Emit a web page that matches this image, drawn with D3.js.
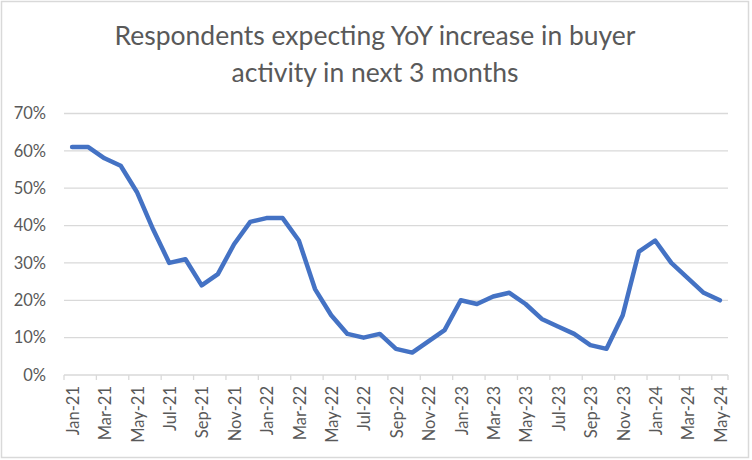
<!DOCTYPE html>
<html>
<head>
<meta charset="utf-8">
<script src="https://cdn.jsdelivr.net/npm/d3@7"></script>
<style>
  body { margin: 0; background: #fff; }
  svg { display: block; }
</style>
</head>
<body>
<div id="vis"></div>
<script>
const months = [
  'Jan-21', 'Feb-21', 'Mar-21', 'Apr-21', 'May-21', 'Jun-21', 'Jul-21', 'Aug-21', 'Sep-21', 'Oct-21', 'Nov-21', 'Dec-21',
  'Jan-22', 'Feb-22', 'Mar-22', 'Apr-22', 'May-22', 'Jun-22', 'Jul-22', 'Aug-22', 'Sep-22', 'Oct-22', 'Nov-22', 'Dec-22',
  'Jan-23', 'Feb-23', 'Mar-23', 'Apr-23', 'May-23', 'Jun-23', 'Jul-23', 'Aug-23', 'Sep-23', 'Oct-23', 'Nov-23', 'Dec-23',
  'Jan-24', 'Feb-24', 'Mar-24', 'Apr-24', 'May-24'
];
const respondents = [
  61, 61, 58, 56, 49, 39, 30, 31, 24, 27, 35, 41,
  42, 42, 36, 23, 16, 11, 10, 11, 7, 6, 9, 12,
  20, 19, 21, 22, 19, 15, 13, 11, 8, 7, 16, 33,
  36, 30, 26, 22, 20
];
const yTicks = [0, 10, 20, 30, 40, 50, 60, 70];
const titleLines = ['Respondents expecting YoY increase in buyer', 'activity in next 3 months'];

const W = 752, H = 460;
const margin = { top: 113.5, right: 24, bottom: 85, left: 64 };
const width = W - margin.left - margin.right;
const height = H - margin.top - margin.bottom;
const font = 'Lato, "Open Sans", sans-serif';
const textGray = '#595959';

const svg = d3.select('#vis')
  .append('svg')
  .attr('width', W)
  .attr('height', H);

// chart area border
svg.append('rect')
  .attr('x', 1.5).attr('y', 1.5)
  .attr('width', W - 5).attr('height', H - 4)
  .attr('fill', '#fff')
  .attr('stroke', '#d9d9d9')
  .attr('stroke-width', 1.5);

// title
svg.append('text')
  .attr('x', 374)
  .attr('y', 45)
  .attr('text-anchor', 'middle')
  .attr('font-family', font)
  .attr('font-size', 26.5)
  .attr('fill', textGray)
  .selectAll('tspan')
  .data(titleLines)
  .join('tspan')
  .attr('x', 375)
  .attr('dy', (d, i) => i ? 37 : 0)
  .text(d => d);

const vis = svg.append('g')
  .attr('transform', 'translate(' + margin.left + ',' + margin.top + ')');

// scales
const x = d3.scaleBand()
  .domain(months)
  .range([0, width]);
const y = d3.scaleLinear()
  .domain([0, 70])
  .range([height, 0]);

// gridlines
vis.append('g')
  .selectAll('line')
  .data(yTicks.filter(d => d > 0))
  .join('line')
  .attr('x1', 0).attr('x2', width)
  .attr('y1', d => y(d)).attr('y2', d => y(d))
  .attr('stroke', '#d9d9d9')
  .attr('stroke-width', 1.3);

// y axis labels
const yAxis = vis.append('g')
  .call(d3.axisLeft(y).tickValues(yTicks).tickSize(0).tickPadding(18).tickFormat(d => d + '%'));
yAxis.select('.domain').remove();
yAxis.selectAll('text')
  .attr('font-family', font)
  .attr('font-size', 16.5)
  .attr('fill', textGray);

// x axis: ticks between every second category
const xAxis = vis.append('g')
  .attr('transform', 'translate(0,' + height + ')');
xAxis.append('line')
  .attr('x1', 0).attr('x2', width)
  .attr('stroke', '#d9d9d9')
  .attr('stroke-width', 1.3);
const tickPos = months.map((m, i) => i).filter(i => i % 2 === 0).map(i => x(months[i]));
tickPos.push(width);
xAxis.selectAll('.tick-mark')
  .data(tickPos)
  .join('line')
  .attr('class', 'tick-mark')
  .attr('x1', d => d).attr('x2', d => d)
  .attr('y1', 0).attr('y2', 5)
  .attr('stroke', '#d9d9d9')
  .attr('stroke-width', 1.3);
xAxis.selectAll('.tick-label')
  .data(months.filter((m, i) => i % 2 === 0))
  .join('text')
  .attr('class', 'tick-label')
  .attr('transform', d => 'translate(' + (x(d) + x.bandwidth() / 2 + 1) + ',11) rotate(-90)')
  .attr('text-anchor', 'end')
  .attr('dy', '0.35em')
  .attr('font-family', font)
  .attr('font-size', 16.5)
  .attr('fill', textGray)
  .text(d => d);

// line
const line = d3.line()
  .x((d, i) => x(months[i]) + x.bandwidth() / 2)
  .y(d => y(d));

vis.append('path')
  .datum(respondents)
  .attr('fill', 'none')
  .attr('stroke', '#4472C4')
  .attr('stroke-width', 4.5)
  .attr('stroke-linejoin', 'round')
  .attr('stroke-linecap', 'round')
  .attr('d', line);
</script>
</body>
</html>
